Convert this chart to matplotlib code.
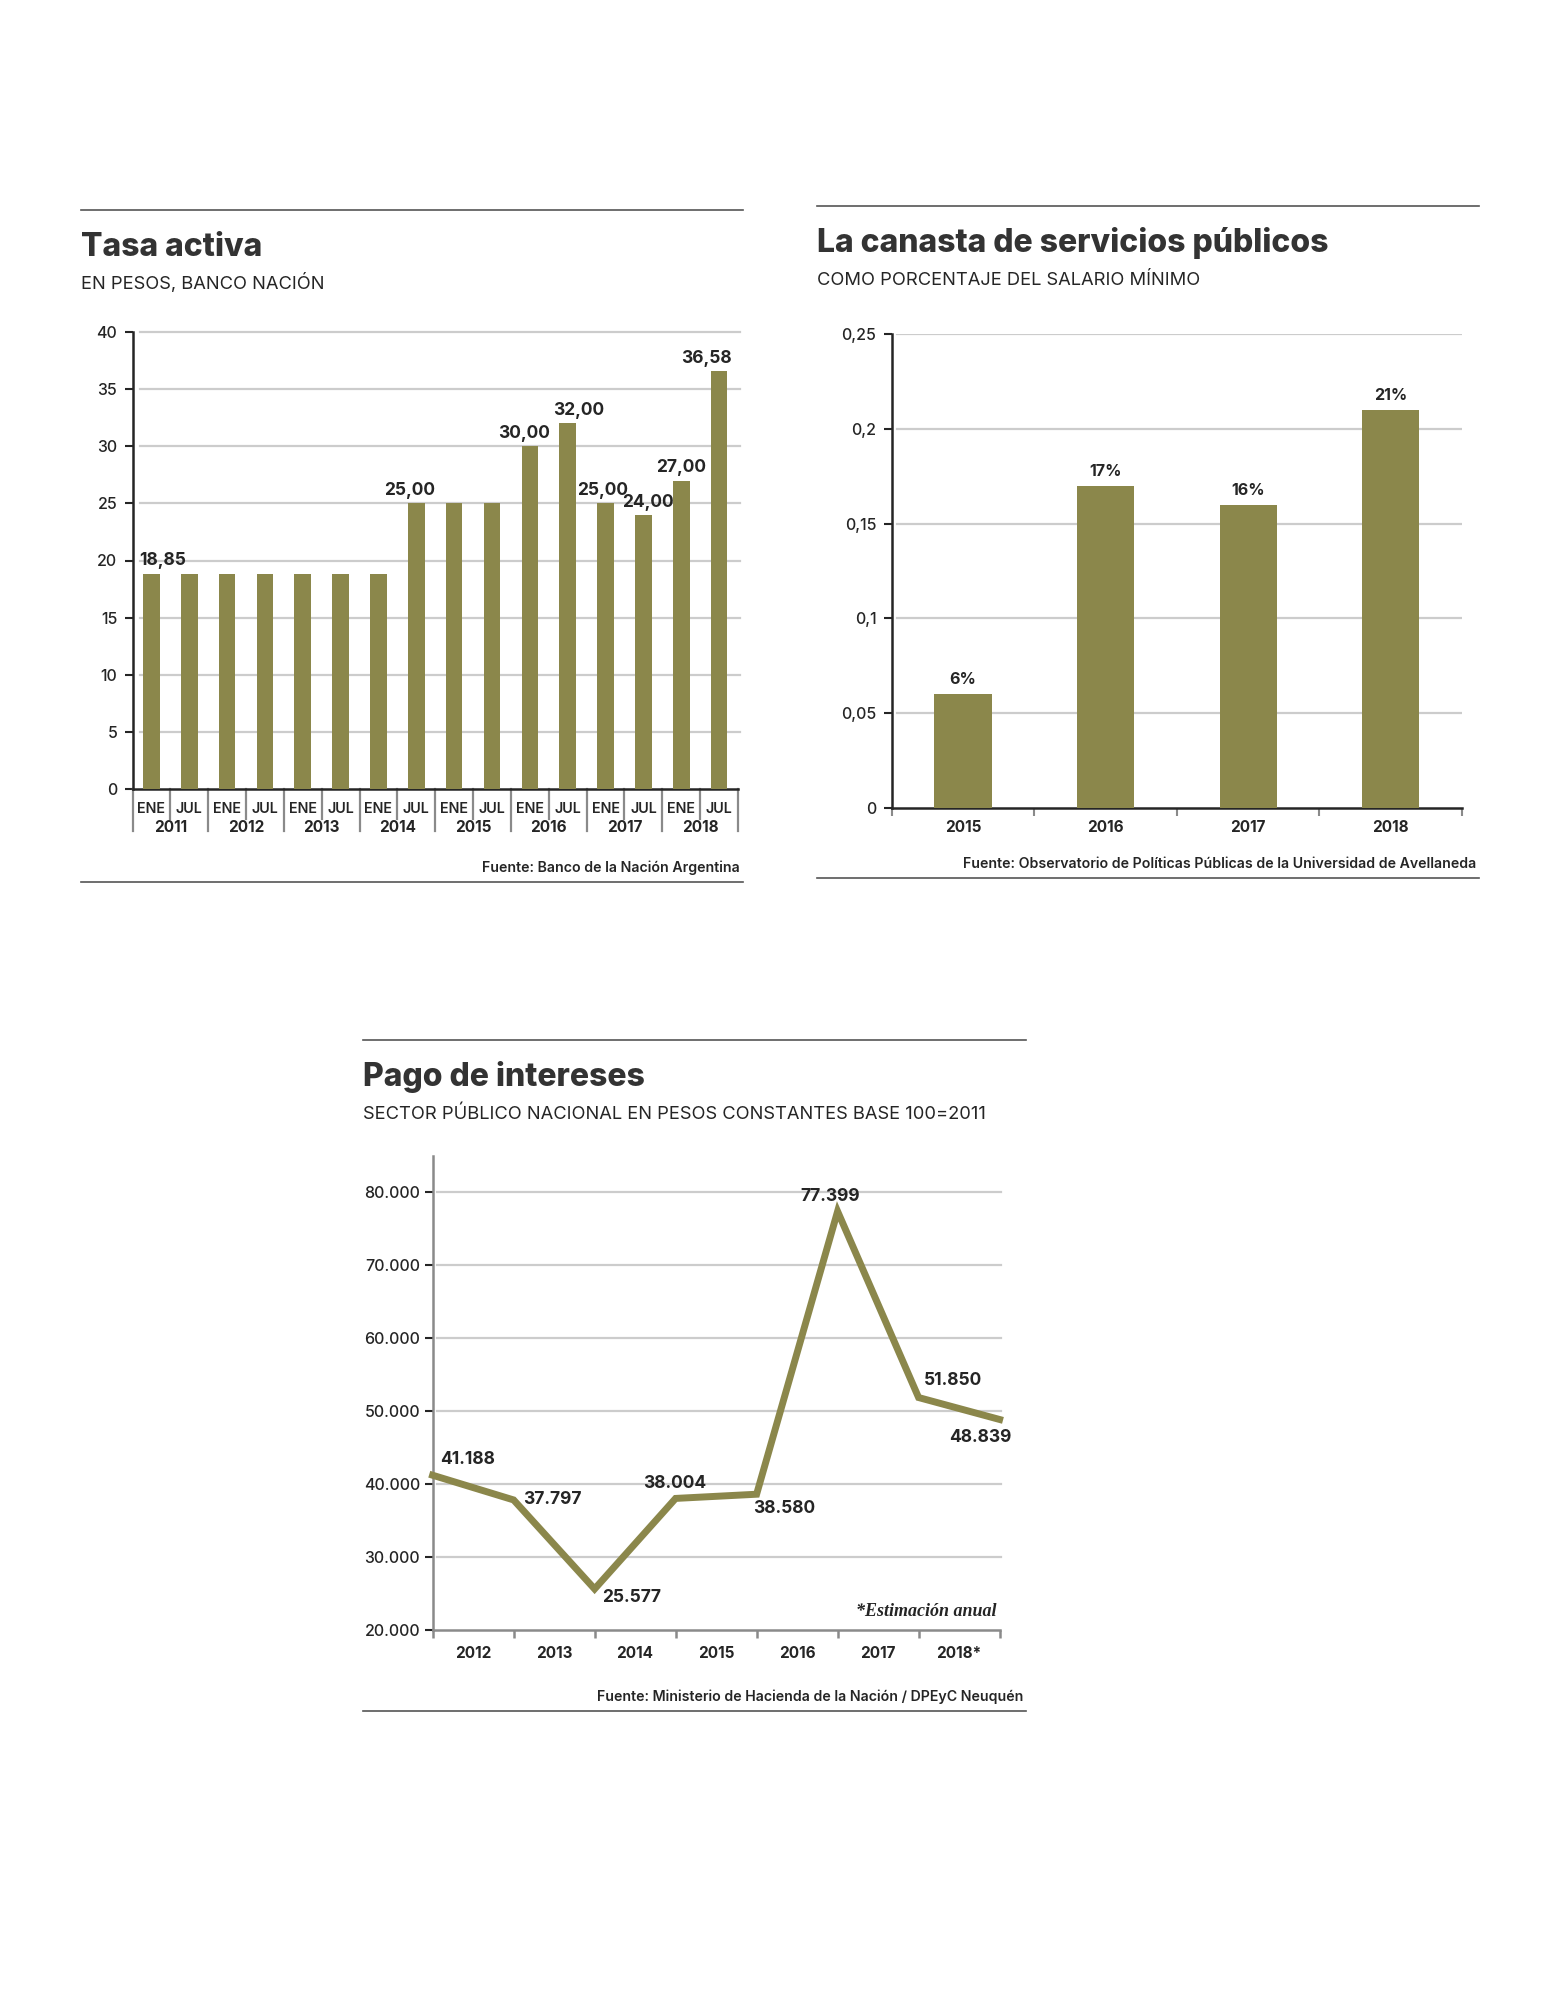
import matplotlib
matplotlib.use('Agg')
import matplotlib.pyplot as plt
import matplotlib.transforms as mtransforms
from matplotlib.lines import Line2D

plt.rcParams['font.family'] = ['Inter', 'DejaVu Sans']

# ---------------- data ----------------
# Tasa activa (bars, two per year)
tasa_periods = ['ENE', 'JUL', 'ENE', 'JUL', 'ENE', 'JUL', 'ENE', 'JUL',
                'ENE', 'JUL', 'ENE', 'JUL', 'ENE', 'JUL', 'ENE', 'JUL']
tasa_years = ['2011', '2012', '2013', '2014', '2015', '2016', '2017', '2018']
tasa_values = [18.85, 18.85, 18.85, 18.85, 18.85, 18.85, 18.85, 25.00,
               25.00, 25.00, 30.00, 32.00, 25.00, 24.00, 27.00, 36.58]
tasa_labels = ['18,85', '', '', '', '', '', '', '25,00',
               '', '', '30,00', '32,00', '25,00', '24,00', '27,00', '36,58']
# horizontal nudge of each value label, points
tasa_label_dx = [8, 0, 0, 0, 0, 0, 0, -5, 0, 0, -4, 8, -2, 3, 0, -9]
tasa_yticks = [0, 5, 10, 15, 20, 25, 30, 35, 40]

# Canasta de servicios públicos
canasta_years = ['2015', '2016', '2017', '2018']
canasta_values = [0.06, 0.17, 0.16, 0.21]
canasta_labels = ['6%', '17%', '16%', '21%']
canasta_yticks = [0, 0.05, 0.1, 0.15, 0.2, 0.25]
canasta_ytick_labels = ['0', '0,05', '0,1', '0,15', '0,2', '0,25']

# Pago de intereses (line)
intereses_values = [41188, 37797, 25577, 38004, 38580, 77399, 51850, 48839]
intereses_labels = ['41.188', '37.797', '25.577', '38.004', '38.580', '77.399', '51.850', '48.839']
intereses_years = ['2012', '2013', '2014', '2015', '2016', '2017', '2018*']
intereses_yticks = [20000, 30000, 40000, 50000, 60000, 70000, 80000]
intereses_ytick_labels = ['20.000', '30.000', '40.000', '50.000', '60.000', '70.000', '80.000']
# label offsets in points (dx, dy)
intereses_offsets = [(25, 11), (28, 0), (27, -6), (-1, 11), (20, -10), (-5, 11), (25, 12), (-14, -13)]

# ---------------- style ----------------
OLIVE = '#8b874b'
DARK = '#252525'
TITLE = '#333333'
GRID = '#cccccc'
GRAY = '#8a8a8a'

W, H = 1568, 2000
fig = plt.figure(figsize=(W / 100, H / 100), dpi=100)
fig.patch.set_facecolor('white')


def axes_px(x0, y0, x1, y1):
    """Adds axes using pixel coords measured from the top-left corner."""
    return fig.add_axes([x0 / W, 1 - y1 / H, (x1 - x0) / W, (y1 - y0) / H])


def hrule(x0, x1, y):
    fig.add_artist(Line2D([x0 / W, x1 / W], [1 - y / H, 1 - y / H], color='#555555', lw=1.2))


def ftext(x, y, s, **kw):
    fig.text(x / W, 1 - y / H, s, **kw)


def header(x0, x1, top, title, subtitle):
    hrule(x0, x1, top)
    ftext(x0, top + 46, title, fontsize=23, weight='heavy', color=TITLE, va='baseline')
    ftext(x0, top + 79, subtitle, fontsize=13.2, color=DARK, va='baseline')


def footer(x0, x1, y, source):
    ftext(x1 - 3, y - 10, source, fontsize=10.2, weight='semibold', color=DARK,
          ha='right', va='baseline')
    hrule(x0, x1, y)


def base_axes(ax, spine_color):
    for s in ['top', 'right']:
        ax.spines[s].set_visible(False)
    ax.spines['left'].set_color(spine_color)
    ax.spines['bottom'].set_color(spine_color)
    ax.spines['left'].set_linewidth(1.8)
    ax.spines['bottom'].set_linewidth(1.8)
    ax.tick_params(axis='y', length=6, width=1.5, color=spine_color, labelsize=11.5,
                   labelcolor=DARK, pad=5)
    for t in ax.get_yticklabels():
        t.set_fontweight('medium')


# ---------------- Tasa activa ----------------
header(81, 743, 210, 'Tasa activa', 'EN PESOS, BANCO NACIÓN')
ax1 = axes_px(132.5, 332, 738, 789)
x1 = list(range(len(tasa_values)))
ax1.bar(x1, tasa_values, width=0.44, color=OLIVE, zorder=3)
ax1.set_xlim(-0.5, len(tasa_values) - 0.5)
ax1.set_ylim(0, 40)
ax1.set_yticks(tasa_yticks)
ax1.set_yticklabels([str(v) for v in tasa_yticks])
base_axes(ax1, DARK)
for v in tasa_yticks[1:]:
    ax1.axhline(v, xmin=0.012, xmax=1.003, color=GRID, lw=1.6, zorder=1, clip_on=False)
ax1.set_xticks([])
for i, (v, lab) in enumerate(zip(tasa_values, tasa_labels)):
    if lab:
        ax1.annotate(lab, (i, v), xytext=(tasa_label_dx[i], 3), textcoords='offset points',
                     ha='center', va='bottom', fontsize=12.5, weight='bold', color=DARK)
trans1 = mtransforms.blended_transform_factory(ax1.transData, ax1.transAxes)
for k in range(len(tasa_values) + 1):
    b = k - 0.5
    depth = 0.092 if k % 2 == 0 else 0.066
    ax1.plot([b, b], [0, -depth], transform=trans1, color=GRAY, lw=1.6, clip_on=False)
for i, p in enumerate(tasa_periods):
    ax1.annotate(p, (i, 0), xycoords=('data', 'axes fraction'), xytext=(0, -14.5),
                 textcoords='offset points', ha='center', va='center', fontsize=10.3,
                 weight='semibold', color=DARK)
for j, yr in enumerate(tasa_years):
    ax1.annotate(yr, (2 * j + 0.5, 0), xycoords=('data', 'axes fraction'), xytext=(0, -27.5),
                 textcoords='offset points', ha='center', va='center', fontsize=11,
                 weight='bold', color=DARK)
footer(81, 743, 882, 'Fuente: Banco de la Nación Argentina')

# ---------------- Canasta ----------------
header(817, 1479, 206, 'La canasta de servicios públicos', 'COMO PORCENTAJE DEL SALARIO MÍNIMO')
ax2 = axes_px(891.7, 334, 1462, 808)
x2 = list(range(len(canasta_values)))
ax2.bar(x2, canasta_values, width=0.4, color=OLIVE, zorder=3)
ax2.set_xlim(-0.5, len(canasta_values) - 0.5)
ax2.set_ylim(0, 0.25)
ax2.set_yticks(canasta_yticks)
ax2.set_yticklabels(canasta_ytick_labels)
base_axes(ax2, DARK)
for v in canasta_yticks[1:]:
    ax2.axhline(v, xmin=0.01, xmax=1.0, color=GRID, lw=1.6, zorder=1)
ax2.set_xticks([k - 0.5 for k in range(len(canasta_values) + 1)])
ax2.set_xticklabels([])
ax2.tick_params(axis='x', length=6, width=1.5, color=GRAY)
for i, (v, lab) in enumerate(zip(canasta_values, canasta_labels)):
    ax2.annotate(lab, (i, v), xytext=(0, 5), textcoords='offset points', ha='center',
                 va='bottom', fontsize=11.5, weight='bold', color=DARK)
    ax2.annotate(canasta_years[i], (i, 0), xycoords=('data', 'axes fraction'), xytext=(0, -14),
                 textcoords='offset points', ha='center', va='center', fontsize=11,
                 weight='bold', color=DARK)
footer(817, 1479, 878, 'Fuente: Observatorio de Políticas Públicas de la Universidad de Avellaneda')

# ---------------- Pago de intereses ----------------
header(363, 1026, 1040, 'Pago de intereses', 'SECTOR PÚBLICO NACIONAL EN PESOS CONSTANTES BASE 100=2011')
ax3 = axes_px(432.6, 1156, 999.6, 1629.6)
x3 = list(range(len(intereses_values)))
ax3.plot(x3, intereses_values, color=OLIVE, lw=5, solid_joinstyle='miter', zorder=3, clip_on=False)
ax3.set_xlim(0, len(intereses_values) - 1)
ax3.set_ylim(20000, 85000)
ax3.set_yticks(intereses_yticks)
ax3.set_yticklabels(intereses_ytick_labels)
base_axes(ax3, GRAY)
ax3.tick_params(axis='y', color=DARK, pad=3)
for v in intereses_yticks[1:]:
    ax3.axhline(v, xmin=0.008, xmax=1.003, color=GRID, lw=1.6, zorder=1, clip_on=False)
ax3.set_xticks(x3)
ax3.set_xticklabels([])
ax3.tick_params(axis='x', length=6, width=1.8, color=GRAY)
for i, (v, lab) in enumerate(zip(intereses_values, intereses_labels)):
    dx, dy = intereses_offsets[i]
    ax3.annotate(lab, (i, v), xytext=(dx, dy), textcoords='offset points', ha='center',
                 va='center', fontsize=12.5, weight='bold', color=DARK, zorder=4)
for j, yr in enumerate(intereses_years):
    ax3.annotate(yr, (j + 0.5, 0), xycoords=('data', 'axes fraction'), xytext=(0, -17.5),
                 textcoords='offset points', ha='center', va='center', fontsize=11,
                 weight='bold', color=DARK)
ax3.text(0.995, 0.02, '*Estimación anual', transform=ax3.transAxes, ha='right', va='bottom',
         fontsize=13, style='italic', weight='bold', family=['Liberation Serif', 'DejaVu Serif'],
         color=DARK)
footer(363, 1026, 1711, 'Fuente: Ministerio de Hacienda de la Nación / DPEyC Neuquén')

fig.savefig('out.png', dpi=100, facecolor='white')
